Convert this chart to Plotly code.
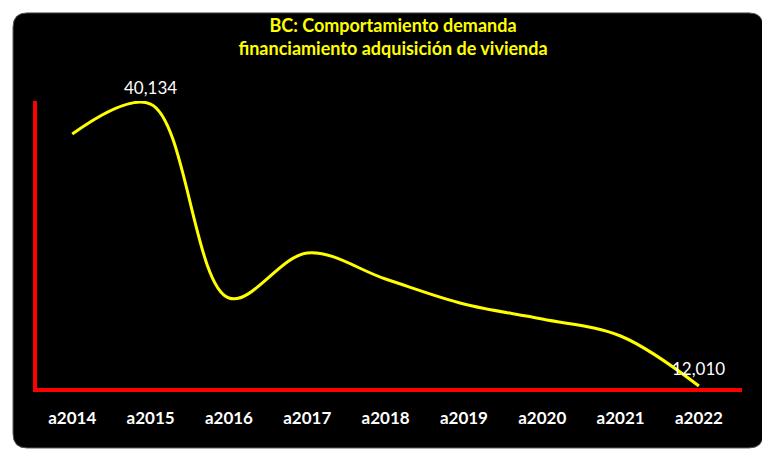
import plotly.graph_objects as go

years = ["a2014", "a2015", "a2016", "a2017", "a2018", "a2019", "a2020", "a2021", "a2022"]
demand = [37135, 40134, 20784, 25270, 22678, 20185, 18690, 16995, 12010]
labelled = [1, 8]  # indexes of points that carry a value label

fig = go.Figure()
fig.add_trace(go.Scatter(
    x=years, y=demand, mode="lines",
    line=dict(color="#FFFF00", width=3, shape="spline", smoothing=1.0),
    hoverinfo="x+y",
))

for i in labelled:
    fig.add_annotation(
        x=years[i], y=demand[i], text=f"{demand[i]:,}", showarrow=False,
        yshift=17, font=dict(color="white", size=17, family="Lato"),
    )

# black rounded panel behind the chart
x0, x1, y0, y1, r = -0.034, 1.03, -0.209, 1.307, 0.02
fig.add_shape(
    type="path", xref="paper", yref="paper", layer="below",
    path=(f"M {x0+r},{y0} L {x1-r},{y0} Q {x1},{y0} {x1},{y0+r*2.5} "
          f"L {x1},{y1-r*2.5} Q {x1},{y1} {x1-r},{y1} L {x0+r},{y1} "
          f"Q {x0},{y1} {x0},{y1-r*2.5} L {x0},{y0+r*2.5} Q {x0},{y0} {x0+r},{y0} Z"),
    fillcolor="black", line=dict(color="#555555", width=1),
)

fig.update_layout(
    width=770, height=470,
    margin=dict(l=29, r=36, t=93, b=90),
    paper_bgcolor="white", plot_bgcolor="rgba(0,0,0,0)",
    showlegend=False,
    title=dict(
        text="<b>BC: Comportamiento demanda<br>financiamiento adquisición de vivienda</b>",
        x=0.5, xanchor="center", y=0.95, yanchor="top",
        font=dict(color="#FFFF00", size=18, family="Lato"),
    ),
    xaxis=dict(
        range=[-0.45, 8.55], showgrid=False, zeroline=False,
        showline=True, linecolor="#FF0000", linewidth=4,
        ticks="", tickfont=dict(color="white", size=17, family="Lato"),
        tickprefix="<b>", ticksuffix="</b>", ticklabelstandoff=12,
    ),
    yaxis=dict(
        range=[11810, 40434], showgrid=False, zeroline=False,
        showline=True, linecolor="#FF0000", linewidth=4,
        showticklabels=False, ticks="",
    ),
)

fig.write_html("out.html")
